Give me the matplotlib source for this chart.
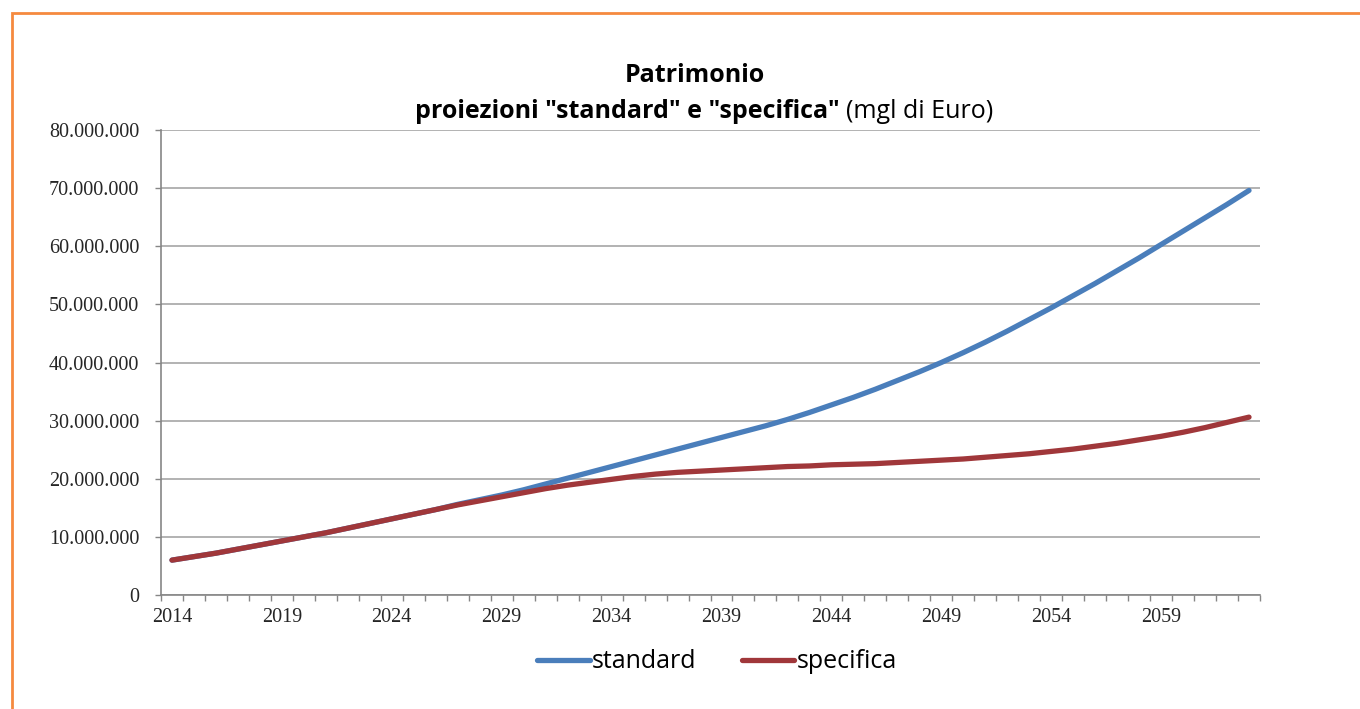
import numpy as np
import matplotlib
matplotlib.use("Agg")
import matplotlib.pyplot as plt
from matplotlib.patches import Rectangle
from matplotlib.ticker import FuncFormatter, FixedLocator

# anni di proiezione
anni = list(range(2014, 2064))

# valori in milioni di (mgl di Euro), moltiplicati sotto
standard = [6.0, 6.6, 7.2, 7.9, 8.6, 9.3, 10.0, 10.7, 11.5, 12.3,
            13.1, 13.9, 14.7, 15.6, 16.4, 17.2, 18.1, 19.1, 20.1, 21.1,
            22.1, 23.1, 24.1, 25.1, 26.1, 27.1, 28.1, 29.1, 30.2, 31.4,
            32.7, 34.0, 35.4, 36.9, 38.4, 40.0, 41.7, 43.5, 45.4, 47.4,
            49.4, 51.5, 53.6, 55.8, 58.0, 60.3, 62.6, 64.9, 67.2, 69.6]
specifica = [6.0, 6.6, 7.2, 7.9, 8.6, 9.3, 10.0, 10.7, 11.5, 12.3,
             13.1, 13.9, 14.7, 15.5, 16.2, 16.9, 17.6, 18.3, 18.9, 19.4,
             19.9, 20.4, 20.8, 21.1, 21.3, 21.5, 21.7, 21.9, 22.1, 22.2,
             22.4, 22.5, 22.6, 22.8, 23.0, 23.2, 23.4, 23.7, 24.0, 24.3,
             24.7, 25.1, 25.6, 26.1, 26.7, 27.3, 28.0, 28.8, 29.7, 30.6]
etichette_x = [2014, 2019, 2024, 2029, 2034, 2039, 2044, 2049, 2054, 2059]
valori_y = [0, 10e6, 20e6, 30e6, 40e6, 50e6, 60e6, 70e6, 80e6]

BLU = "#4A7EBB"
ROSSO = "#A0373A"
GRIGIO = "#A6A6A6"

fig = plt.figure(figsize=(13.6, 7.09), dpi=100)
ax = fig.add_axes([161/1360, 1-595/709, (1260-161)/1360, (595-130)/709])

ax.plot(anni, np.array(standard)*1e6, color=BLU, lw=3.8, label="standard",
        solid_capstyle="round", zorder=3)
ax.plot(anni, np.array(specifica)*1e6, color=ROSSO, lw=3.8, label="specifica",
        solid_capstyle="round", zorder=4)

ax.set_xlim(2013.5, 2063.5)
ax.set_ylim(0, 80e6)

# asse categorie: tacche tra gli anni, etichette ogni 5 anni
ax.xaxis.set_major_locator(FixedLocator(np.arange(2013.5, 2064, 1)))
ax.xaxis.set_major_formatter(FuncFormatter(lambda v, p: ""))
ax.xaxis.set_minor_locator(FixedLocator(etichette_x))
ax.xaxis.set_minor_formatter(FuncFormatter(lambda v, p: "%d" % round(v)))
ax.tick_params(axis="x", which="major", direction="out", length=4.5,
               width=1, color="#868686")
ax.tick_params(axis="x", which="minor", length=0, pad=9,
               labelsize=14.5, labelcolor="#262626")

ax.yaxis.set_major_locator(FixedLocator(valori_y))
ax.yaxis.set_major_formatter(FuncFormatter(
    lambda v, p: "{:,.0f}".format(v).replace(",", ".")))
ax.tick_params(axis="y", direction="out", length=4.5, width=1,
               color="#868686", pad=11, labelsize=14.5, labelcolor="#262626")
for lab in ax.get_xticklabels(minor=True) + ax.get_yticklabels():
    lab.set_family("Liberation Serif")

ax.grid(axis="y", color=GRIGIO, lw=1.2, zorder=0)
ax.set_axisbelow(True)
for s in ["top", "right"]:
    ax.spines[s].set_visible(False)
for s in ["left", "bottom"]:
    ax.spines[s].set_color("#868686")
    ax.spines[s].set_linewidth(1.2)

# titolo
fig.text(695/1360, 1-76/709, "Patrimonio", ha="center", va="center",
         fontsize=18, fontweight="bold", family="Open Sans")
fig.text(840/1360, 1-112/709, 'proiezioni "standard" e "specifica"',
         ha="right", va="center", fontsize=18, fontweight="bold",
         family="Open Sans")
fig.text(846/1360, 1-112/709, "(mgl di Euro)", ha="left", va="center",
         fontsize=18, family="Open Sans")

fig.legend(loc="center", bbox_to_anchor=(717/1360, 1-662/709), ncol=2,
           frameon=False, prop={"family": "Open Sans", "size": 18},
           handlelength=2.1, handletextpad=0.1, columnspacing=1.8)

# cornice arancione
fig.patches.append(Rectangle((12/1360, -0.1), 1.2, (709-13)/709+0.1,
                             transform=fig.transFigure, fill=False,
                             edgecolor="#F58A3F", lw=2))

fig.savefig("out.png", dpi=100)
